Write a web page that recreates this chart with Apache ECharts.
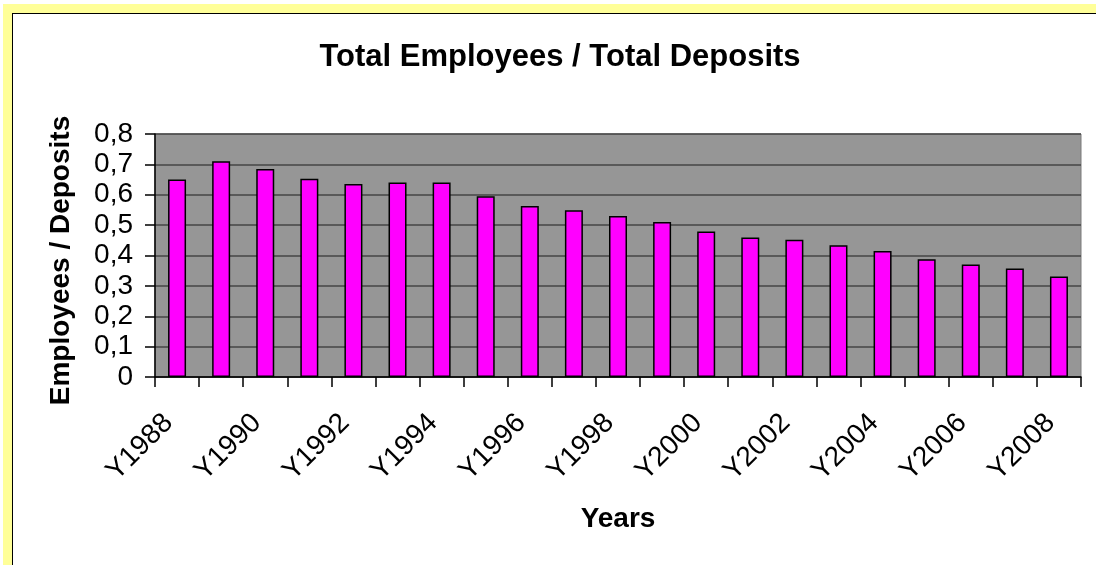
<!DOCTYPE html>
<html>
<head>
<meta charset="utf-8">
<script src="https://cdn.jsdelivr.net/npm/echarts@6/dist/echarts.min.js"></script>
<style>
  html, body { margin: 0; padding: 0; background: #ffffff; }
  #frame {
    position: absolute; left: 3px; top: 4px; width: 1093px; height: 561px;
    box-sizing: border-box; border-top: 9px solid #ffff99; border-left: 9px solid #ffff99;
  }
  #frameInner {
    width: 100%; height: 100%; box-sizing: border-box;
    border-top: 1.5px solid #000000; border-left: 1.5px solid #000000;
  }
  #employeesChart { position: absolute; left: 0; top: 0; width: 1096px; height: 565px; }
</style>
</head>
<body>
<div id="frame"><div id="frameInner"></div></div>
<div id="employeesChart"></div>
<script>
// years on the category axis
const years = ['Y1988', 'Y1989', 'Y1990', 'Y1991', 'Y1992', 'Y1993', 'Y1994', 'Y1995', 'Y1996', 'Y1997',
  'Y1998', 'Y1999', 'Y2000', 'Y2001', 'Y2002', 'Y2003', 'Y2004', 'Y2005', 'Y2006', 'Y2007', 'Y2008'];
// employees / deposits ratio
const ratio = [0.65, 0.71, 0.685, 0.653, 0.635, 0.64, 0.64, 0.595, 0.563, 0.549,
  0.53, 0.51, 0.479, 0.459, 0.452, 0.434, 0.415, 0.388, 0.37, 0.357, 0.331];
const yTicks = [0, 0.1, 0.2, 0.3, 0.4, 0.5, 0.6, 0.7, 0.8];

let option = {
  backgroundColor: 'transparent',
  animation: false,
  title: {
    text: 'Total Employees / Total Deposits',
    left: 555,
    top: 37,
    textAlign: 'center',
    textStyle: {fontFamily: 'Arial, Liberation Sans', fontSize: 31, fontWeight: 'bold', color: '#000'}
  },
  grid: {
    left: 155,
    top: 134,
    right: 15,
    bottom: 188,
    show: true,
    backgroundColor: '#969696',
    borderColor: '#7a7a7a',
    borderWidth: 1
  },
  xAxis: {
    type: 'category',
    data: years,
    name: 'Years',
    nameLocation: 'middle',
    nameGap: 128,
    nameTextStyle: {fontFamily: 'Arial, Liberation Sans', fontSize: 28, fontWeight: 'bold', color: '#000'},
    axisLine: {lineStyle: {color: '#000', width: 1.5}},
    axisTick: {show: true, interval: 0, length: 10, lineStyle: {color: '#000', width: 1.5}},
    axisLabel: {
      interval: 1,
      rotate: 45,
      margin: 33,
      padding: [0, 12, 0, 0],
      fontFamily: 'Arial, Liberation Sans',
      fontSize: 28,
      color: '#000'
    },
    splitLine: {show: false}
  },
  yAxis: {
    type: 'value',
    min: 0,
    max: 0.8,
    interval: 0.1,
    name: 'Employees / Deposits',
    nameLocation: 'middle',
    nameGap: 80,
    nameRotate: 90,
    nameTextStyle: {fontFamily: 'Arial, Liberation Sans', fontSize: 28, fontWeight: 'bold', color: '#000', padding: [0, 10, 0, 0]},
    axisLine: {show: true, lineStyle: {color: '#000', width: 1.5}},
    axisTick: {show: true, length: 10, lineStyle: {color: '#000', width: 1.5}},
    axisLabel: {
      margin: 22,
      fontFamily: 'Arial, Liberation Sans',
      fontSize: 28,
      color: '#000',
      formatter: function (value) {
        let v = yTicks.find(t => Math.abs(t - value) < 1e-9);
        return String(v === undefined ? value : v).replace('.', ',');
      }
    },
    splitLine: {show: true, lineStyle: {color: '#454545', width: 1.5}}
  },
  series: [
    {
      name: 'Employees / Deposits',
      type: 'bar',
      data: ratio,
      barWidth: 18,
      itemStyle: {
        color: '#ff00ff',
        borderColor: '#000',
        borderWidth: 1.5
      }
    }
  ]
};

let employeesChart = echarts.init(document.getElementById('employeesChart'), null, {
  width: 1096,
  height: 565
});
employeesChart.setOption(option);
</script>
</body>
</html>
